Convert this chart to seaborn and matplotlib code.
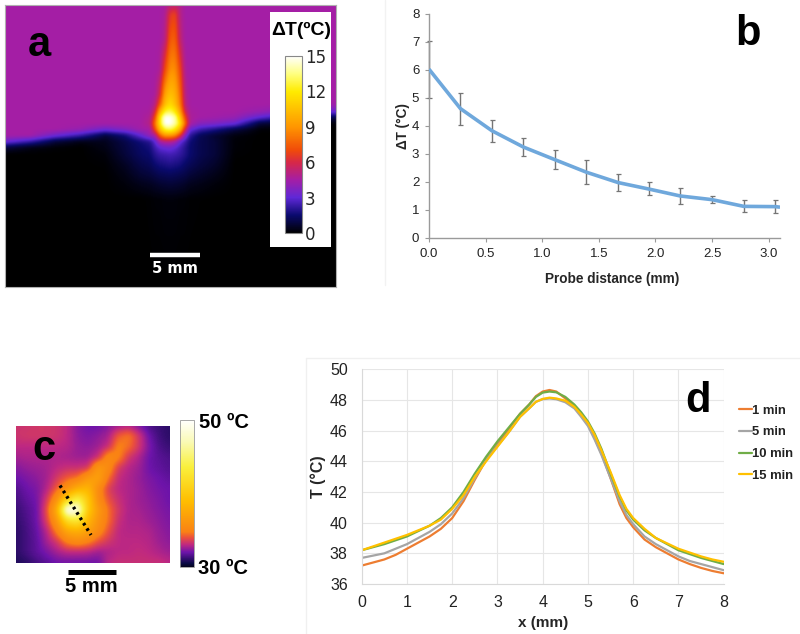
import numpy as np
import pandas as pd
import matplotlib
matplotlib.use("Agg")
import matplotlib.pyplot as plt
from matplotlib.colors import LinearSegmentedColormap, Normalize
from matplotlib.cm import ScalarMappable
import seaborn as sns

# ---------- panel a: thermal image, read on a grid (mm) ----------
a_x_mm = [0, 2.5, 5, 7.5, 10, 12, 13.5, 14.5, 15, 15.5, 16, 16.5, 17, 17.5, 18, 18.5, 19.5, 21, 23, 25.5, 28.5, 33.1]
a_y_mm = [0, 1, 3.5, 6.5, 9, 10, 10.7, 11.3, 11.9, 12.5, 13.1, 13.7, 14.3, 15, 16, 17, 18, 19.5, 28.2]
B = 4.5
a_grid = [
    [B,B,B,B,B,B,B,B,B,B,4.6,5.0,5.3,4.9,B,B,B,B,B,B,B,B],
    [B,B,B,B,B,B,B,B,B,B,4.7,6.4,6.8,5.0,B,B,B,B,B,B,B,B],
    [B,B,B,B,B,B,B,B,B,B,5.0,7.4,7.6,5.4,B,B,B,B,B,B,B,B],
    [B,B,B,B,B,B,B,B,B,4.7,7.0,8.8,8.8,7.0,4.7,B,B,B,B,B,B,B],
    [B,B,B,B,B,B,B,B,4.6,6.0,9.5,10.5,10.0,8.0,5.0,B,B,B,B,B,B,B],
    [B,B,B,B,B,B,B,B,5.0,7.5,10.5,11.5,10.5,8.5,5.2,B,B,B,B,B,B,4.4],
    [B,B,B,B,B,B,B,4.6,5.8,10,12.5,13,12,9.5,5.8,4.6,B,B,B,4.2,3.7,3.2],
    [B,B,B,B,B,B,B,4.8,7.0,12,15,15,14,11,7.0,4.7,B,4.4,4.2,3.0,1.8,1.0],
    [B,B,B,B,B,B,B,5.0,8.0,12,15,15,14,12,8.0,4.7,3.9,3.7,3.2,0.8,0.3,0.1],
    [B,B,B,4.2,3.3,3.8,4.4,B,7.0,10.5,12.5,13,12,10,6.0,3.2,2.4,1.8,0.9,0.1,0,0],
    [B,B,3.3,2.3,0.8,1.6,3.0,4.2,4.5,7.5,9.0,9.0,8.5,6.5,3.8,2.1,1.2,0.7,0.2,0,0,0],
    [3.3,2.3,0.8,0.3,0.4,1.0,1.6,2.0,3.0,4.5,5.0,5.0,4.5,3.2,2.4,1.6,1.1,0.8,0.1,0,0,0],
    [0.8,0.3,0.1,0,0.3,0.9,1.4,1.7,2.4,3.0,3.2,3.3,3.0,2.5,2.0,1.5,1.1,0.8,0.1,0,0,0],
    [0,0,0,0,0.15,0.8,1.3,1.5,2.0,2.3,2.4,2.5,2.4,2.2,1.9,1.5,1.1,0.8,0.05,0,0,0],
    [0,0,0,0,0.05,0.5,1.0,1.2,1.5,1.7,1.8,1.9,1.8,1.7,1.4,1.2,0.9,0.6,0,0,0,0],
    [0,0,0,0,0,0.3,0.7,0.85,1.0,1.15,1.2,1.25,1.2,1.1,1.0,0.8,0.6,0.35,0,0,0,0],
    [0,0,0,0,0,0.15,0.35,0.45,0.55,0.65,0.7,0.75,0.7,0.65,0.55,0.4,0.3,0.15,0,0,0,0],
    [0,0,0,0,0,0,0,0.05,0.1,0.1,0.15,0.15,0.15,0.1,0.1,0.05,0.03,0,0,0,0,0],
    [0,0,0,0,0,0,0,0,0,0,0,0,0,0,0,0,0,0,0,0,0,0],
]
a_ticks = [0, 3, 6, 9, 12, 15]
a_stops = [(0, "#000000"), (1.5, "#0a0a6e"), (3, "#5f28d7"), (4.5, "#a51ea5"), (6, "#d72846"),
           (7, "#f04a0a"), (9, "#ff9600"), (12, "#ffeb00"), (13.5, "#ffff80"), (15, "#ffffff")]

# ---------- panel b ----------
b_x = [0, 0.278, 0.556, 0.833, 1.11, 1.39, 1.67, 1.94, 2.22, 2.5, 2.78, 3.06, 3.1]
b_y = [6.03, 4.62, 3.83, 3.25, 2.80, 2.35, 1.98, 1.75, 1.50, 1.37, 1.13, 1.12, 1.10]
b_hi = [7.05, 5.18, 4.23, 3.58, 3.15, 2.80, 2.28, 2.00, 1.78, 1.50, 1.35, 1.35]
b_lo = [5.00, 4.05, 3.43, 2.93, 2.45, 1.92, 1.68, 1.52, 1.23, 1.25, 0.92, 0.90]

# ---------- panel c: thermal image on a 16 x 14 grid (deg C) ----------
c_grid = [
    [33.3,33.3,33.4,33.4,33.3,33.0,32.3,32.0,32.0,32.3,32.6,32.8,32.2,31.5,31.2,31.0],
    [33.3,33.4,33.4,33.4,33.3,33.0,32.4,32.2,32.4,32.7,34.2,34.7,33.4,32.0,31.3,31.0],
    [33.0,33.0,33.0,33.0,33.0,32.9,32.5,32.4,32.6,33.2,35.0,34.5,33.4,32.2,31.5,31.2],
    [32.7,32.8,32.8,32.8,32.8,32.7,32.6,32.6,33.2,35.5,35.0,33.4,32.8,32.0,31.7,31.5],
    [32.3,32.5,32.6,32.7,33.0,33.2,33.2,33.4,36.5,35.5,33.5,32.9,32.6,32.0,31.8,31.6],
    [32.0,32.2,32.4,32.7,33.5,34.2,34.6,36.5,37.0,34.5,33.1,32.8,32.5,32.2,32.0,31.8],
    [31.6,32.0,32.2,32.9,34.3,36.0,38.0,38.5,35.5,33.6,33.0,32.8,32.6,32.3,32.1,32.0],
    [31.4,31.8,32.1,33.5,36.0,41.0,44.0,40.0,35.5,34.0,33.2,32.8,32.6,32.4,32.2,32.0],
    [31.2,31.6,32.0,34.0,38.0,50.0,49.0,40.0,36.5,34.5,33.4,32.8,32.7,32.5,32.3,32.1],
    [31.1,31.5,32.0,33.7,36.5,42.0,43.0,38.5,36.0,34.5,33.2,32.8,32.8,32.6,32.4,32.2],
    [31.0,31.4,31.9,33.0,35.0,37.5,38.0,37.0,35.5,34.0,33.0,32.9,32.9,32.8,32.5,32.3],
    [31.0,31.4,31.8,32.7,33.5,35.0,35.5,35.0,34.0,33.4,33.0,33.0,33.0,32.9,32.6,32.4],
    [31.0,31.4,31.8,32.2,32.7,33.0,33.0,32.9,32.6,32.8,33.0,33.0,33.1,33.0,32.8,32.6],
    [30.8,31.0,31.4,31.7,32.0,32.0,32.0,32.0,32.0,33.0,33.2,33.2,33.2,33.2,33.2,33.0],
]
c_stops = [(30, "#05051e"), (30.5, "#0a0a46"), (32, "#6e14aa"), (33, "#be2882"), (34, "#eb503c"),
           (34.8, "#fa8214"), (39, "#ffbe00"), (43.6, "#faf03c"), (47, "#fafab4"), (50, "#ffffff")]

# ---------- panel d ----------
d_x = [0,.25,.5,.75,1,1.25,1.5,1.75,2,2.25,2.5,2.75,3,3.25,3.5,3.7,3.85,4,4.15,4.3,4.5,4.7,4.85,5,5.15,5.3,5.5,5.7,5.85,6,6.25,6.5,6.75,7,7.25,7.5,7.75,8]
d_1 = [37.2,37.4,37.6,37.9,38.3,38.7,39.1,39.6,40.3,41.4,42.8,44.1,45.1,46.1,47.1,47.7,48.25,48.55,48.65,48.55,48.1,47.55,47.0,46.4,45.5,44.5,42.9,41.2,40.3,39.7,38.9,38.4,38.0,37.6,37.3,37.05,36.85,36.7]
d_5 = [37.7,37.85,38.0,38.3,38.6,39.0,39.4,39.9,40.6,41.6,42.9,44.1,45.0,45.9,46.9,47.45,47.88,48.05,48.1,48.05,47.85,47.45,46.9,46.3,45.4,44.4,42.9,41.4,40.5,39.9,39.1,38.6,38.2,37.8,37.5,37.3,37.1,36.9]
d_10 = [38.2,38.4,38.6,38.85,39.1,39.45,39.8,40.3,41.0,42.0,43.2,44.3,45.3,46.2,47.1,47.7,48.2,48.48,48.55,48.5,48.2,47.7,47.2,46.6,45.8,44.8,43.2,41.7,40.8,40.2,39.5,39.0,38.6,38.2,37.95,37.7,37.5,37.3]
d_15 = [38.2,38.45,38.7,38.95,39.2,39.5,39.8,40.2,40.9,41.8,43.0,44.0,44.95,45.9,46.9,47.45,47.88,48.07,48.15,48.1,47.95,47.55,47.05,46.5,45.7,44.7,43.3,41.8,40.9,40.3,39.6,39.0,38.65,38.3,38.05,37.8,37.6,37.45]
d_names = ["1 min", "5 min", "10 min", "15 min"]
d_colors = ["#ED7D31", "#A5A5A5", "#70AD47", "#FFC000"]

sns.set_style("white")
plt.rcParams["font.family"] = ["Liberation Sans", "DejaVu Sans"]

W, H = 800, 634
fig = plt.figure(figsize=(W / 100, H / 100), dpi=100)


def box(x0, y0, x1, y1, **kw):
    """axes from pixel box measured from the top-left corner"""
    return fig.add_axes([x0 / W, 1 - y1 / H, (x1 - x0) / W, (y1 - y0) / H], **kw)


def stop_cmap(stops):
    lo, hi = stops[0][0], stops[-1][0]
    return LinearSegmentedColormap.from_list("c", [((v - lo) / (hi - lo), col) for v, col in stops], N=512)


def soften(xs, ys, grid, xf, yf, radius):
    """bilinear resampling of a read-off grid, with the blur of the printed image"""
    g = np.array(grid, float)
    g = np.array([np.interp(xf, xs, row) for row in g])
    g = np.array([np.interp(yf, ys, g[:, j]) for j in range(g.shape[1])]).T
    k = np.ones(2 * radius + 1) / (2 * radius + 1)
    for _ in range(3):
        g = np.pad(g, radius, mode="edge")
        g = np.apply_along_axis(lambda r: np.convolve(r, k, mode="valid"), 0, g)
        g = np.apply_along_axis(lambda r: np.convolve(r, k, mode="valid"), 1, g)
    return g


# ---- a ----
ax_a = box(5, 5, 336, 287)
cm_a = stop_cmap(a_stops)
a_xf = np.linspace(0, 33.1, 331)
a_yf = np.linspace(0, 28.2, 282)
ax_a.imshow(soften(a_x_mm, a_y_mm, a_grid, a_xf, a_yf, 1), cmap=cm_a, vmin=0, vmax=15,
            extent=(0, 33.1, 28.2, 0), aspect="auto", interpolation="bilinear")
ax_a.set_xlim(0, 33.1)
ax_a.set_ylim(28.2, 0)
ax_a.set_xticks([]); ax_a.set_yticks([])
for s in ax_a.spines.values():
    s.set_color("#b0b0b0"); s.set_linewidth(0.8)
ax_a.plot([14.5, 19.5], [25, 25], color="white", lw=3.2, solid_capstyle="butt")
ax_a.text(17, 26.35, "5 mm", color="white", family="DejaVu Sans", weight="bold", fontsize=10.5, ha="center", va="center")

ax_abg = box(270, 12, 331, 247)
ax_abg.set_facecolor("white"); ax_abg.set_xticks([]); ax_abg.set_yticks([])
for s in ax_abg.spines.values():
    s.set_visible(False)
cax_a = box(285, 56, 302, 233)
cb = fig.colorbar(ScalarMappable(Normalize(0, 15), cm_a), cax=cax_a, ticks=a_ticks)
cb.ax.tick_params(length=0, pad=2, labelsize=12, labelfontfamily="DejaVu Sans")
cb.outline.set_edgecolor("#888888"); cb.outline.set_linewidth(0.8)

# ---- b ----
ax_b = box(429, 14, 780, 238)
df_b = pd.DataFrame({"x": b_x, "y": b_y})
eb = ax_b.errorbar(b_x[:-1], b_y[:-1],
                   yerr=[np.array(b_y[:-1]) - np.array(b_lo), np.array(b_hi) - np.array(b_y[:-1])],
                   fmt="none", ecolor="#757575", elinewidth=1, capsize=1.8, capthick=0.9, zorder=2)
for art in eb.get_children():
    art.set_clip_on(False)
sns.lineplot(data=df_b, x="x", y="y", ax=ax_b, color="#6FA8DC", lw=2.6, zorder=3, solid_capstyle="butt")
ax_b.set_xlim(0, 3.1); ax_b.set_ylim(0, 8)
ax_b.set_xticks([0, 0.5, 1, 1.5, 2, 2.5, 3])
ax_b.set_xticklabels(["0.0", "0.5", "1.0", "1.5", "2.0", "2.5", "3.0"])
ax_b.set_yticks(range(9))
ax_b.patch.set_alpha(0)
sns.despine(ax=ax_b)
for s in ["left", "bottom"]:
    ax_b.spines[s].set_color("#9a9a9a"); ax_b.spines[s].set_linewidth(1.0)
ax_b.tick_params(axis="both", length=3, width=0.8, color="#9a9a9a", labelsize=9.5, labelcolor="#222222", pad=4, direction="out", bottom=True, left=True)
ax_b.set_xlabel("Probe distance (mm)", fontsize=9.8, weight="bold", labelpad=9, x=0.521)
ax_b.set_ylabel("ΔT (°C)", fontsize=9.8, weight="bold", labelpad=1)

# ---- c ----
ax_c = box(16, 425.5, 170, 563)
cm_c = stop_cmap(c_stops)
c_xs = np.arange(16); c_ys = np.arange(14)
c_xf = np.linspace(0, 15, 154); c_yf = np.linspace(0, 13, 138)
ax_c.imshow(soften(c_xs, c_ys, c_grid, c_xf, c_yf, 2), cmap=cm_c, vmin=30, vmax=50,
            extent=(0, 15, 13, 0), interpolation="bilinear", aspect="auto")
ax_c.set_xticks([]); ax_c.set_yticks([])
for s in ax_c.spines.values():
    s.set_visible(False)
cax_c = box(180, 420, 194, 567)
cb2 = fig.colorbar(ScalarMappable(Normalize(30, 50), cm_c), cax=cax_c, ticks=[])
cb2.outline.set_edgecolor("#999999"); cb2.outline.set_linewidth(0.6)

# ---- d ----
ax_d = box(361.7, 369.3, 723.7, 584)
df_d = pd.DataFrame({"x": d_x * 4,
                     "T": d_1 + d_5 + d_10 + d_15,
                     "series": np.repeat(d_names, len(d_x))})
sns.lineplot(data=df_d, x="x", y="T", hue="series", hue_order=d_names, palette=d_colors, ax=ax_d, lw=1.6)
ax_d.set_xlim(0, 8); ax_d.set_ylim(36, 50)
ax_d.set_xticks(range(9)); ax_d.set_yticks(range(36, 51, 2))
ax_d.grid(True, color="#e6e6e6", lw=0.8)
for s in ax_d.spines.values():
    s.set_visible(False)
ax_d.spines["bottom"].set_visible(True); ax_d.spines["bottom"].set_color("#d9d9d9")
ax_d.spines["left"].set_visible(True); ax_d.spines["left"].set_color("#d9d9d9")
ax_d.tick_params(labelsize=11.5, length=0, labelcolor="#222222")
ax_d.tick_params(axis="y", pad=10)
ax_d.tick_params(axis="x", pad=8)
ax_d.set_xlabel("x (mm)", fontsize=11, weight="bold", labelpad=4)
ax_d.set_ylabel("T (°C)", fontsize=11.5, weight="bold", labelpad=3)
leg = ax_d.legend(loc="upper left", bbox_to_anchor=(1.042, 0.836), frameon=False, title=None,
                  prop={"size": 9.4, "weight": "bold"}, handlelength=1.0, handletextpad=0.0,
                  labelspacing=0.74, borderpad=0, borderaxespad=0)
for t in leg.get_texts():
    t.set_color("#222222")

# ---- overlay in pixel space ----
ov = fig.add_axes([0, 0, 1, 1], zorder=20)
ov.set_xlim(0, W); ov.set_ylim(H, 0); ov.axis("off"); ov.patch.set_alpha(0)
bold = dict(weight="bold", color="black")
ov.text(39, 45, "a", fontsize=30, ha="center", va="center", **bold)
ov.text(748, 34, "b", fontsize=30, ha="center", va="center", **bold)
ov.text(44, 449, "c", fontsize=30, ha="center", va="center", **bold)
ov.text(698, 401, "d", fontsize=30, ha="center", va="center", **bold)
ov.text(301, 30, "ΔT(ºC)", fontsize=14, ha="center", va="center", **bold)
ov.text(199, 422, "50 ºC", fontsize=14.5, ha="left", va="center", **bold)
ov.text(198, 568, "30 ºC", fontsize=14.5, ha="left", va="center", **bold)
ov.text(91.5, 586, "5 mm", fontsize=14.5, ha="center", va="center", **bold)
ov.plot([68, 116], [572, 572], color="black", lw=3.6, solid_capstyle="butt")
ov.plot([60, 91], [485.5, 535], color="black", lw=2.4, linestyle=(0, (0.8, 1.1)))
# faint panel frames from the pasted figure
ov.plot([306, 306, 800], [634, 358, 358], color="#f0f0f0", lw=1)
ov.plot([385, 385], [0, 285], color="#f2f2f2", lw=1)

fig.savefig("out.png", dpi=100)
